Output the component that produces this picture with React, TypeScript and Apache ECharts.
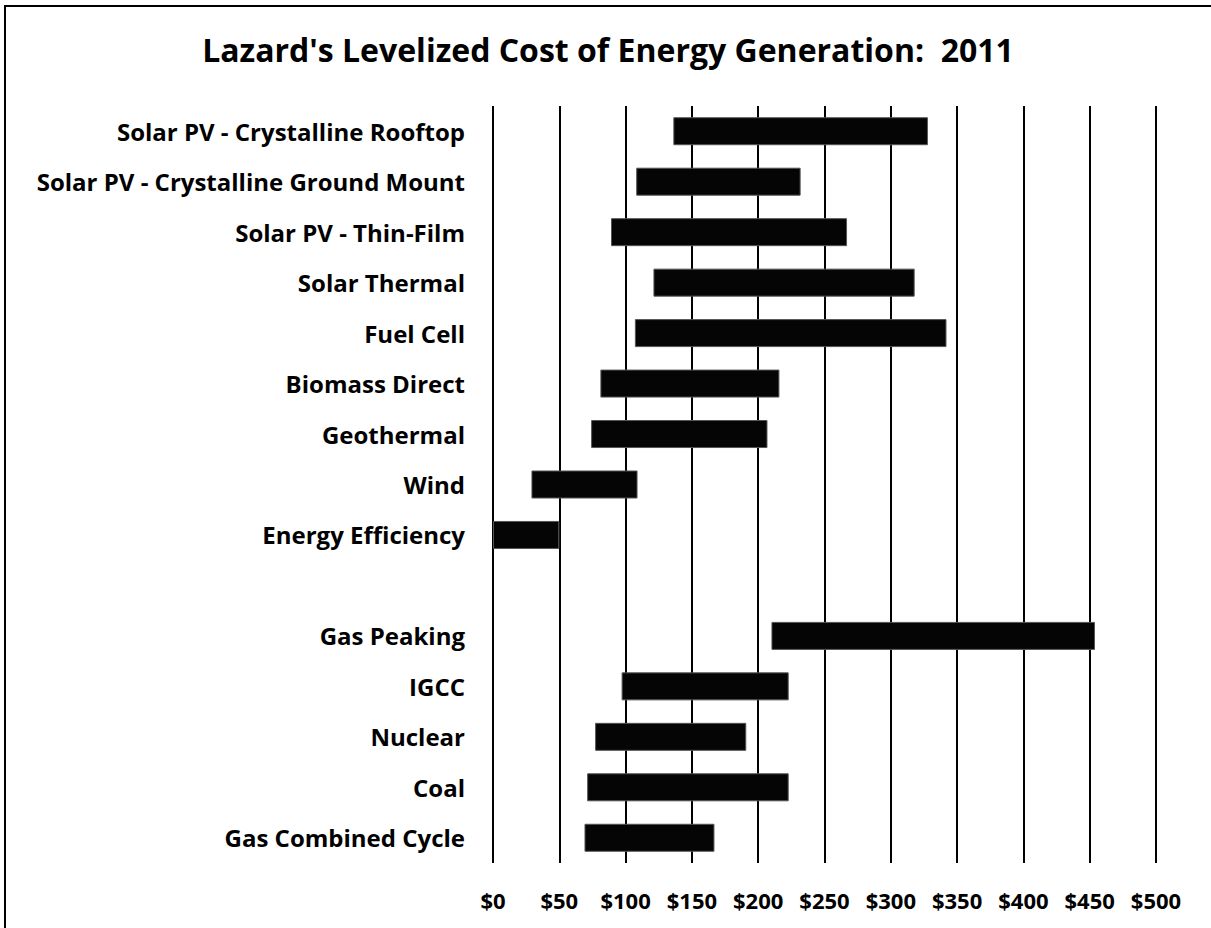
import React, { useEffect, useRef } from "react";
import * as echarts from "echarts";

const categories = [
  "Solar PV - Crystalline Rooftop",
  "Solar PV - Crystalline Ground Mount",
  "Solar PV - Thin-Film",
  "Solar Thermal",
  "Fuel Cell",
  "Biomass Direct",
  "Geothermal",
  "Wind",
  "Energy Efficiency",
  "",
  "Gas Peaking",
  "IGCC",
  "Nuclear",
  "Coal",
  "Gas Combined Cycle",
];
const lowCost: (number | null)[] = [136, 108, 89, 121, 107, 81, 74, 29, 0, null, 210, 97, 77, 71, 69];
const highCost: (number | null)[] = [328, 232, 267, 318, 342, 216, 207, 109, 50, null, 454, 223, 191, 223, 167];
const tickValues = [0, 50, 100, 150, 200, 250, 300, 350, 400, 450, 500];

const FONT = "'Open Sans', Lato, sans-serif";

export default function App() {
  const ref = useRef<HTMLDivElement>(null);
  useEffect(() => {
    if (!ref.current) return;
    const chart = echarts.init(ref.current, undefined, { renderer: "svg" });
    const base = lowCost.map((v) => (v == null ? "-" : v));
    const span = lowCost.map((v, i) => {
      const h = highCost[i];
      return v == null || h == null ? "-" : h - v;
    });
    chart.setOption({
      animation: false,
      backgroundColor: "#ffffff",
      title: {
        text: "Lazard's Levelized Cost of Energy Generation:  2011",
        left: 603,
        textAlign: "center",
        top: 28,
        textStyle: { fontFamily: FONT, fontWeight: "bold", fontSize: 32, color: "#000" },
      },
      graphic: [
        {
          type: "rect",
          shape: { x: 5, y: 6, width: 1220, height: 940 },
          style: { fill: "none", stroke: "#000", lineWidth: 2 },
          silent: true,
        },
      ],
      grid: { left: 493, right: 55, top: 106, bottom: 65, containLabel: false },
      xAxis: {
        type: "value",
        min: tickValues[0],
        max: tickValues[tickValues.length - 1],
        interval: 50,
        axisLine: { show: false },
        axisTick: { show: false },
        splitLine: { show: true, lineStyle: { color: "#000", width: 2 } },
        axisLabel: {
          margin: 26,
          fontFamily: FONT,
          fontWeight: "bold",
          fontSize: 22,
          color: "#000",
          formatter: (v: number) => "$" + v,
        },
      },
      yAxis: {
        type: "category",
        data: categories,
        inverse: true,
        axisLine: { show: false },
        axisTick: { show: false },
        splitLine: { show: false },
        axisLabel: {
          margin: 28,
          fontFamily: FONT,
          fontWeight: "bold",
          fontSize: 24,
          color: "#000",
          interval: 0,
        },
      },
      series: [
        {
          type: "bar",
          stack: "range",
          data: base,
          itemStyle: { color: "transparent" },
          barWidth: 28,
          silent: true,
        },
        {
          type: "bar",
          stack: "range",
          data: span,
          barWidth: 28,
          itemStyle: { color: "#050505", borderColor: "#555", borderWidth: 1 },
        },
      ],
    });
    return () => chart.dispose();
  }, []);
  return (
    <div
      ref={ref}
      style={{ position: "absolute", left: 0, top: 0, width: 1211, height: 928, background: "#fff" }}
    />
  );
}
